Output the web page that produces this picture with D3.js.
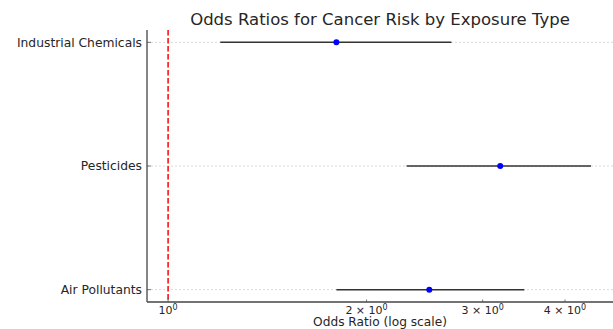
<!DOCTYPE html>
<html><head><meta charset="utf-8">
<script src="https://cdn.jsdelivr.net/npm/d3@7"></script>
<style>body{margin:0;background:#fff}svg{display:block}text{font-family:"DejaVu Sans",sans-serif;fill:#262626}</style>
</head><body><svg id="c" width="613" height="329"></svg>
<script>
const categories = ["Air Pollutants", "Pesticides", "Industrial Chemicals"];
const oddsRatio = [2.49, 3.19, 1.80];
const ciLower = [1.80, 2.30, 1.20];
const ciUpper = [3.47, 4.38, 2.69];
const xTicks = [1, 2, 3, 4];
const xTickLabels = [["10", "0"], ["2 × 10", "0"], ["3 × 10", "0"], ["4 × 10", "0"]];
const title = "Odds Ratios for Cancer Risk by Exposure Type";
const xLabel = "Odds Ratio (log scale)";

const svg = d3.select("#c");
const L = 147, R = 613, T = 30, B = 302;
const x = d3.scaleLog().domain([0.929, 4.73]).range([L, R]);
const y = d3.scaleLinear().domain([-0.1, 2.1]).range([B, T]);

// grid
svg.append("g").selectAll("line").data(categories).join("line")
  .attr("x1", L).attr("x2", R).attr("y1", (d,i)=>y(i)).attr("y2", (d,i)=>y(i))
  .attr("stroke", "#d0d0d0").attr("stroke-width", 0.8).attr("stroke-dasharray", "2,2");

// reference line
svg.append("line").attr("x1", x(1)).attr("x2", x(1)).attr("y1", T).attr("y2", B)
  .attr("stroke", "#ff0000").attr("stroke-width", 1.5).attr("stroke-dasharray", "5.5,2.5");

// whiskers
svg.append("g").selectAll("line").data(categories).join("line")
  .attr("x1", (d,i)=>x(ciLower[i])).attr("x2", (d,i)=>x(ciUpper[i]))
  .attr("y1", (d,i)=>y(i)).attr("y2", (d,i)=>y(i))
  .attr("stroke", "#333").attr("stroke-width", 1.5);

// points
svg.append("g").selectAll("circle").data(categories).join("circle")
  .attr("cx", (d,i)=>x(oddsRatio[i])).attr("cy", (d,i)=>y(i)).attr("r", 3)
  .attr("fill", "#0000ff");

// spines
svg.append("line").attr("x1", L).attr("x2", L).attr("y1", T).attr("y2", B).attr("stroke", "#444").attr("stroke-width", 1.3);
svg.append("line").attr("x1", L).attr("x2", R).attr("y1", B).attr("y2", B).attr("stroke", "#444").attr("stroke-width", 1.3);

// y ticks & labels
const yg = svg.append("g");
categories.forEach((c,i)=>{
  yg.append("line").attr("x1", L).attr("x2", L+4).attr("y1", y(i)).attr("y2", y(i)).attr("stroke", "#555").attr("stroke-width", 0.8);
  yg.append("text").attr("x", L-5).attr("y", y(i)).attr("dy", "0.35em").attr("text-anchor", "end")
    .attr("font-size", "12.3px").text(c);
});

// x ticks & labels
const xg = svg.append("g");
xTicks.forEach((t,i)=>{
  xg.append("line").attr("x1", x(t)).attr("x2", x(t)).attr("y1", B).attr("y2", B-(i===0?4:2.5)).attr("stroke", "#555").attr("stroke-width", 0.8);
  const tx = xg.append("text").attr("x", x(t)).attr("y", B+11.5).attr("text-anchor", "middle").attr("font-size", "11px");
  tx.append("tspan").text(xTickLabels[i][0]);
  tx.append("tspan").attr("dy", "-0.45em").attr("font-size", "8px").text(xTickLabels[i][1]);
});

svg.append("text").attr("x", (L+R)/2).attr("y", 326).attr("text-anchor", "middle").attr("font-size", "12.2px").text(xLabel);
svg.append("text").attr("x", (L+R)/2).attr("y", 25).attr("text-anchor", "middle").attr("font-size", "16.5px").text(title);
</script></body></html>
